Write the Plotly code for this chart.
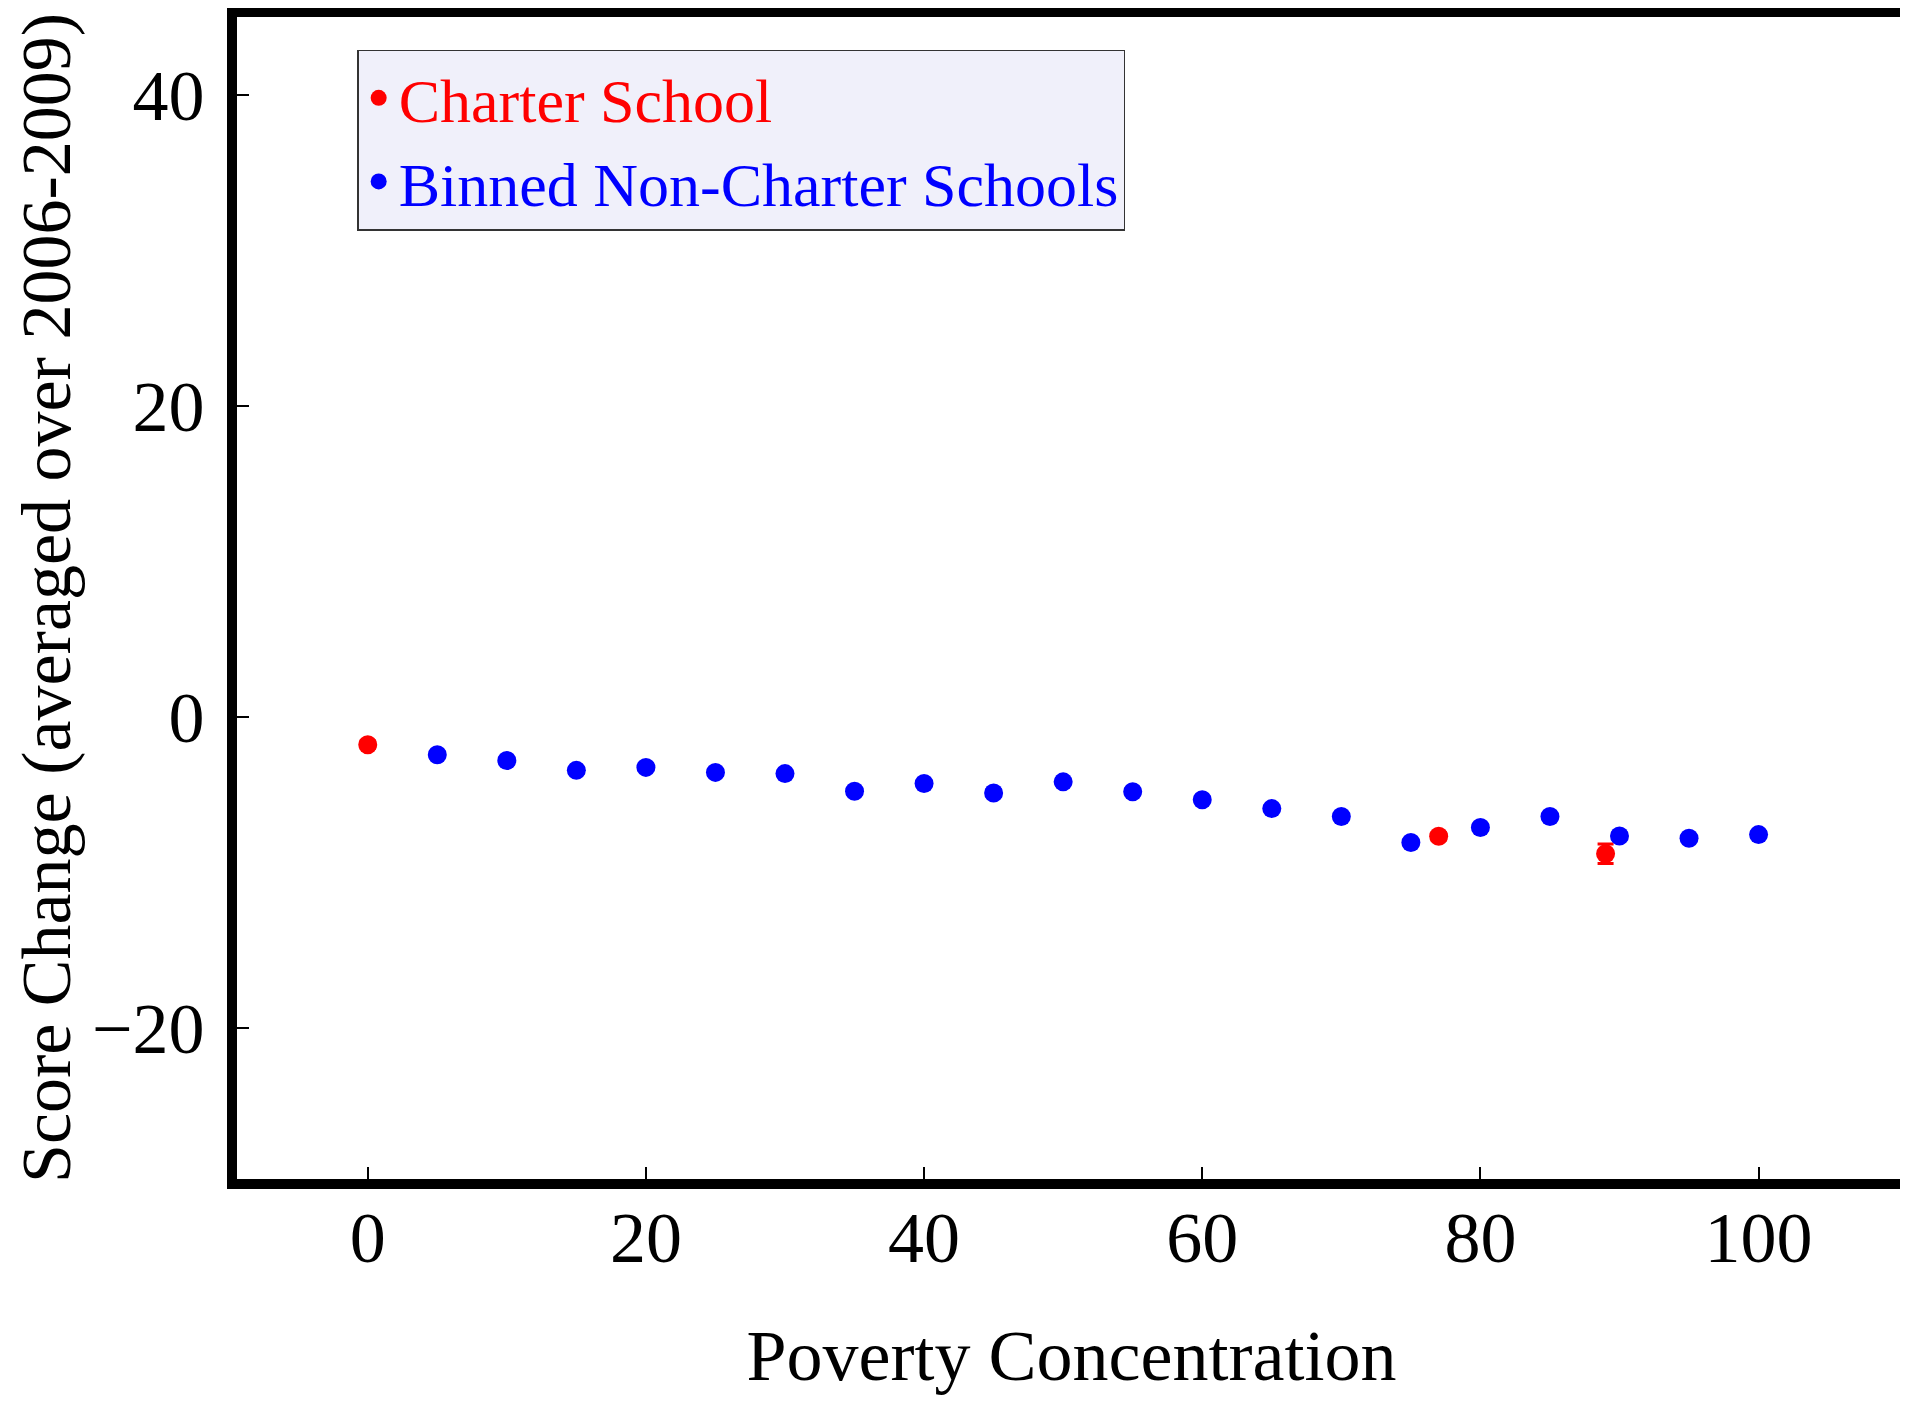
import plotly.graph_objects as go

# ---- data ----
charter_x = [0, 77, 89]
charter_y = [-1.78, -7.67, -8.79]
charter_err = [0.25, 0.25, 0.62]

binned_x = [5, 10, 15, 20, 25, 30, 35, 40, 45, 50, 55, 60, 65, 70, 75, 80, 85, 90, 95, 100]
binned_y = [-2.43, -2.80, -3.43, -3.24, -3.56, -3.64, -4.77, -4.28, -4.88, -4.17,
            -4.81, -5.32, -5.89, -6.40, -8.07, -7.10, -6.40, -7.65, -7.79, -7.56]
binned_err = [0.2] * len(binned_x)

x_ticks = [0, 20, 40, 60, 80, 100]
y_ticks = [-20, 0, 20, 40]

FONT = "Liberation Serif"

fig = go.Figure()
fig.add_trace(go.Scatter(
    x=charter_x, y=charter_y, mode="markers",
    name="<span style='color:#ff0000'>Charter School</span>",
    marker=dict(color="#ff0000", size=19),
    error_y=dict(type="data", array=charter_err, visible=True,
                 color="#ff0000", thickness=3, width=8),
))
fig.add_trace(go.Scatter(
    x=binned_x, y=binned_y, mode="markers",
    name="<span style='color:#0000ff'>Binned Non-Charter Schools</span>",
    marker=dict(color="#0000ff", size=19),
    error_y=dict(type="data", array=binned_err, visible=True,
                 color="#0000ff", thickness=3, width=8),
))

fig.update_layout(
    width=1908, height=1401,
    margin=dict(l=229, r=10, t=9, b=230, autoexpand=False),
    paper_bgcolor="white", plot_bgcolor="white",
    font=dict(family=FONT, size=60, color="black"),
    showlegend=True,
    legend=dict(
        x=0.072, y=0.972, xanchor="left", yanchor="top",
        bgcolor="rgb(240,240,250)", bordercolor="#333333", borderwidth=1.5,
        font=dict(family=FONT, size=62),
        tracegroupgap=0,
    ),
)
fig.update_xaxes(
    range=[-9.4, 110.6], tickvals=x_ticks, ticks="inside", ticklen=12, tickwidth=2,
    tickcolor="black", showline=True, linewidth=10, linecolor="black",
    mirror=True, showgrid=False, zeroline=False, automargin=False,
    tickfont=dict(family=FONT, size=72),
    ticklabelstandoff=-13,
    title=dict(text="Poverty Concentration", font=dict(family=FONT, size=72), standoff=56),
)
fig.update_yaxes(
    range=[-29.7, 45], tickvals=y_ticks, ticks="inside", ticklen=12, tickwidth=2,
    tickcolor="black", showline=True, linewidth=10, linecolor="black",
    mirror=True, showgrid=False, zeroline=False, automargin=False,
    tickfont=dict(family=FONT, size=72),
    ticklabelstandoff=8,
    title=dict(text="Score Change (averaged over 2006-2009)",
               font=dict(family=FONT, size=70), standoff=30),
)

fig.write_html("out.html")
